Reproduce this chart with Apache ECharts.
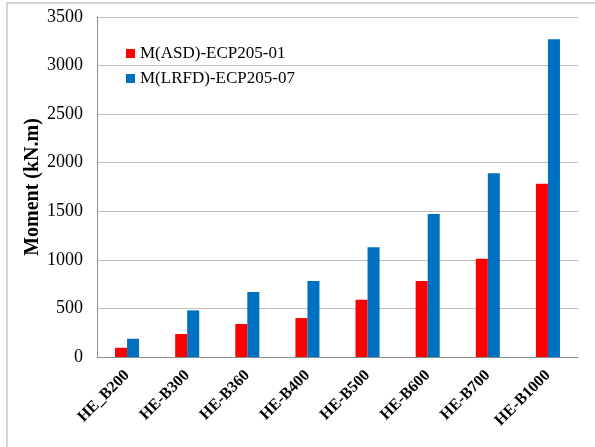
<!DOCTYPE html>
<html>
<head>
<meta charset="utf-8">
<script src="https://cdn.jsdelivr.net/npm/echarts@6/dist/echarts.min.js"></script>
<style>
  html, body { margin: 0; padding: 0; background: #fff; }
  #chart { width: 595px; height: 447px; }
</style>
</head>
<body>
<div id="chart"></div>
<script>
// Section names along the x axis
const sections = ['HE_B200', 'HE-B300', 'HE-B360', 'HE-B400', 'HE-B500', 'HE-B600', 'HE-B700', 'HE-B1000'];

// Design moments (kN.m)
const momentASD = [95, 237, 340, 401, 590, 782, 1012, 1784];
const momentLRFD = [188, 480, 669, 782, 1129, 1472, 1891, 3270];

const seriesNames = ['M(ASD)-ECP205-01', 'M(LRFD)-ECP205-07'];
const yTicks = { min: 0, max: 3500, interval: 500 };
const yTitle = 'Moment (kN.m)';

const serif = '"Liberation Serif", "Times New Roman", serif';

const chart = echarts.init(document.getElementById('chart'), null, { renderer: 'canvas' });

chart.setOption({
  backgroundColor: '#ffffff',
  animation: false,
  grid: { left: 97, right: 17, top: 17, bottom: 90, containLabel: false },
  legend: {
    orient: 'vertical',
    left: 126,
    top: 45,
    padding: 0,
    itemWidth: 9,
    itemHeight: 9,
    itemGap: 8,
    icon: 'rect',
    textStyle: { fontFamily: serif, fontSize: 17, color: '#000' },
    data: seriesNames
  },
  xAxis: {
    type: 'category',
    data: sections,
    axisLine: { show: true, lineStyle: { color: '#8c8c8c', width: 1 } },
    axisTick: { show: false },
    axisLabel: {
      interval: 0,
      rotate: 45,
      margin: 16,
      fontFamily: serif,
      fontWeight: 'bold',
      fontSize: 16,
      color: '#000'
    },
    splitLine: { show: false }
  },
  yAxis: {
    type: 'value',
    min: yTicks.min,
    max: yTicks.max,
    interval: yTicks.interval,
    name: yTitle,
    nameLocation: 'middle',
    nameGap: 54,
    nameMoveOverlap: false,
    nameTextStyle: { fontFamily: serif, fontWeight: 'bold', fontSize: 20, color: '#000' },
    axisLine: { show: true, lineStyle: { color: '#8c8c8c', width: 1 } },
    axisTick: { show: false },
    axisLabel: {
      margin: 14,
      fontFamily: serif,
      fontSize: 18,
      color: '#000',
      formatter: (v) => String(v)
    },
    splitLine: { show: true, lineStyle: { color: '#bfbfbf', width: 1 } }
  },
  series: [
    {
      name: seriesNames[0],
      type: 'bar',
      data: momentASD,
      barGap: '0%',
      barCategoryGap: '60%',
      itemStyle: { color: '#ff0000' }
    },
    {
      name: seriesNames[1],
      type: 'bar',
      data: momentLRFD,
      barGap: '0%',
      barCategoryGap: '60%',
      itemStyle: { color: '#0070c0' }
    }
  ],
  graphic: [
    // outer frame (top and left edges)
    {
      type: 'polyline',
      silent: true,
      shape: { points: [[7, 447], [7, 3], [595, 3]] },
      style: { stroke: '#c8c8c8', lineWidth: 1.5, fill: null }
    }
  ]
});
</script>
</body>
</html>
